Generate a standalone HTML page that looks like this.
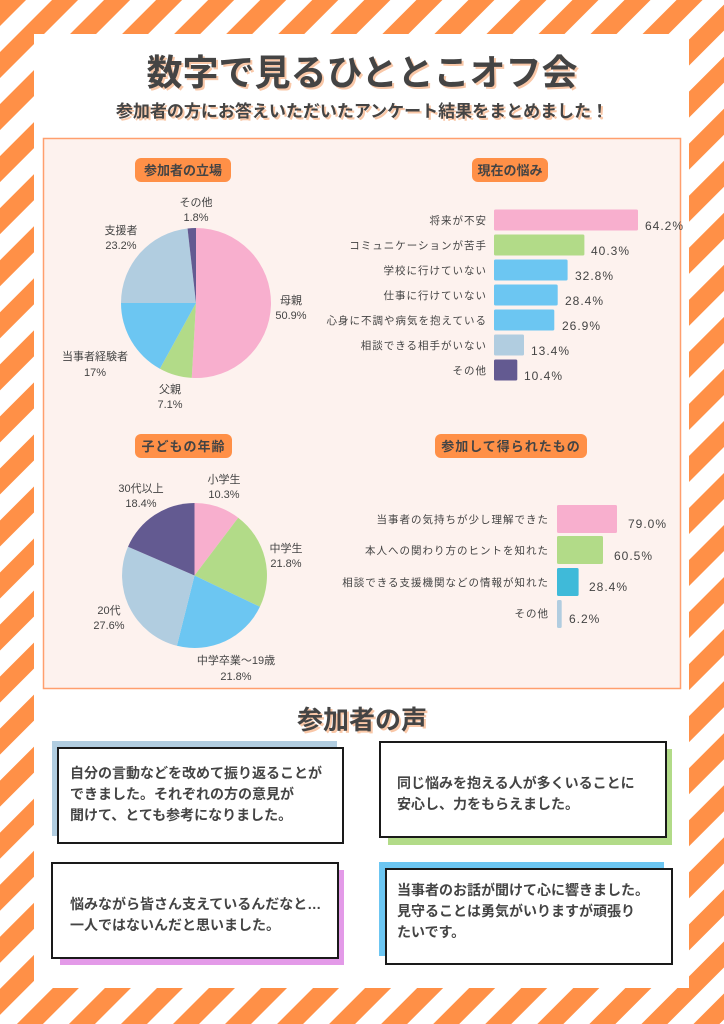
<!DOCTYPE html>
<html><head><meta charset="utf-8"><style>
html,body{margin:0;padding:0;width:724px;height:1024px;overflow:hidden;background:#fff}
svg{display:block}
text{font-family:"Liberation Sans","Noto Sans CJK JP",sans-serif;fill:#444}
.b{font-weight:bold}
</style></head><body>
<svg width="724" height="1024" viewBox="0 0 724 1024" xmlns="http://www.w3.org/2000/svg">
<defs>
<pattern id="st" width="36.8" height="36.8" patternUnits="userSpaceOnUse" patternTransform="rotate(45)">
<rect x="0" y="0" width="18.4" height="36.8" fill="#FF9047"/>
</pattern>
</defs>
<rect width="724" height="1024" fill="#fff"/>
<rect width="724" height="1024" fill="url(#st)"/>
<rect x="34" y="34" width="655" height="954" fill="#fff"/>

<!-- title -->
<g text-anchor="middle" class="b">
<text x="364" y="87" font-size="36" font-weight="bold" style="fill:#F9C7A7">数字で見るひととこオフ会</text>
<text x="362" y="85" font-size="36" font-weight="bold">数字で見るひととこオフ会</text>
<text x="364" y="119" font-size="17" font-weight="bold" style="fill:#F9C7A7">参加者の方にお答えいただいたアンケート結果をまとめました！</text>
<text x="362" y="117" font-size="17" font-weight="bold">参加者の方にお答えいただいたアンケート結果をまとめました！</text>
</g>

<!-- panel -->
<rect x="43.5" y="138.5" width="637" height="550" fill="#FDF2EE" stroke="#FF9F6E" stroke-width="1.5"/>

<!-- pills -->
<g font-size="13" font-weight="bold" text-anchor="middle">
<rect x="135" y="158" width="96" height="24" rx="6" fill="#FF9047"/><text x="183" y="175">参加者の立場</text>
<rect x="472" y="158" width="76" height="24" rx="6" fill="#FF9047"/><text x="510" y="175">現在の悩み</text>
<rect x="135" y="434" width="97" height="24" rx="6" fill="#FF9047"/><text x="183.5" y="451" letter-spacing="1">子どもの年齢</text>
<rect x="435" y="434" width="152" height="24" rx="6" fill="#FF9047"/><text x="511" y="451" letter-spacing="1">参加して得られたもの</text>
</g>

<!-- pie 1 -->
<path d="M196,303 L196,228 A75,75 0 1 1 191.76,377.88 Z" fill="#F8AFCE"/>
<path d="M196,303 L191.76,377.88 A75,75 0 0 1 159.87,368.72 Z" fill="#B2DB88"/>
<path d="M196,303 L159.87,368.72 A75,75 0 0 1 121,303 Z" fill="#6CC6F2"/>
<path d="M196,303 L121,303 A75,75 0 0 1 187.53,228.48 Z" fill="#B1CDE0"/>
<path d="M196,303 L187.53,228.48 A75,75 0 0 1 196,228 Z" fill="#635A91"/>
<g font-size="11" text-anchor="middle">
<text x="196" y="206">その他</text><text x="196" y="221">1.8%</text>
<text x="121" y="234">支援者</text><text x="121" y="249">23.2%</text>
<text x="291" y="304">母親</text><text x="291" y="319">50.9%</text>
<text x="95" y="360">当事者経験者</text><text x="95" y="376">17%</text>
<text x="170" y="393">父親</text><text x="170" y="408">7.1%</text>
</g>

<!-- pie 2 -->
<path d="M194.5,575.5 L194.5,503 A72.5,72.5 0 0 1 238.2,517.7 Z" fill="#F8AFCE"/>
<path d="M194.5,575.5 L238.2,517.7 A72.5,72.5 0 0 1 259.9,606.8 Z" fill="#B2DB88"/>
<path d="M194.5,575.5 L259.9,606.8 A72.5,72.5 0 0 1 176.9,645.8 Z" fill="#6CC6F2"/>
<path d="M194.5,575.5 L176.9,645.8 A72.5,72.5 0 0 1 128.0,546.7 Z" fill="#B1CDE0"/>
<path d="M194.5,575.5 L128.0,546.7 A72.5,72.5 0 0 1 194.5,503 Z" fill="#635A91"/>
<g font-size="11" text-anchor="middle">
<text x="224" y="483">小学生</text><text x="224" y="498">10.3%</text>
<text x="141" y="492">30代以上</text><text x="141" y="507">18.4%</text>
<text x="286" y="552">中学生</text><text x="286" y="567">21.8%</text>
<text x="109" y="614">20代</text><text x="109" y="629">27.6%</text>
<text x="236" y="664">中学卒業～19歳</text><text x="236" y="680">21.8%</text>
</g>

<!-- bar chart 1 -->
<g font-size="10.5" text-anchor="end" letter-spacing="1">
<text x="487" y="224">将来が不安</text>
<text x="487" y="249">コミュニケーションが苦手</text>
<text x="487" y="274">学校に行けていない</text>
<text x="487" y="299">仕事に行けていない</text>
<text x="487" y="324">心身に不調や病気を抱えている</text>
<text x="487" y="349">相談できる相手がいない</text>
<text x="487" y="374">その他</text>
</g>
<rect x="494" y="209.5" width="144" height="21" rx="1.5" fill="#F8AFCE"/>
<rect x="494" y="234.5" width="90.4" height="21" rx="1.5" fill="#B2DB88"/>
<rect x="494" y="259.5" width="73.6" height="21" rx="1.5" fill="#6CC6F2"/>
<rect x="494" y="284.5" width="63.7" height="21" rx="1.5" fill="#6CC6F2"/>
<rect x="494" y="309.5" width="60.3" height="21" rx="1.5" fill="#6CC6F2"/>
<rect x="494" y="334.5" width="30" height="21" rx="1.5" fill="#B1CDE0"/>
<rect x="494" y="359.5" width="23.3" height="21" rx="1.5" fill="#635A91"/>
<g font-size="12" letter-spacing="1">
<text x="645" y="230">64.2%</text>
<text x="591" y="255">40.3%</text>
<text x="575" y="280">32.8%</text>
<text x="565" y="305">28.4%</text>
<text x="562" y="330">26.9%</text>
<text x="531" y="355">13.4%</text>
<text x="524" y="380">10.4%</text>
</g>

<!-- bar chart 2 -->
<g font-size="10.5" text-anchor="end" letter-spacing="1">
<text x="549" y="523">当事者の気持ちが少し理解できた</text>
<text x="549" y="554">本人への関わり方のヒントを知れた</text>
<text x="549" y="586">相談できる支援機関などの情報が知れた</text>
<text x="549" y="617">その他</text>
</g>
<rect x="557" y="505" width="60" height="28" rx="1.5" fill="#F8AFCE"/>
<rect x="557" y="536" width="46" height="28" rx="1.5" fill="#B2DB88"/>
<rect x="557" y="568" width="21.6" height="28" rx="1.5" fill="#3FBAD9"/>
<rect x="557" y="600" width="4.7" height="28" rx="1.5" fill="#B1CDE0"/>
<g font-size="12" letter-spacing="1">
<text x="628" y="528">79.0%</text>
<text x="614" y="560">60.5%</text>
<text x="589" y="591">28.4%</text>
<text x="569" y="623">6.2%</text>
</g>

<!-- voices heading -->
<text x="364" y="731" font-size="26" font-weight="bold" text-anchor="middle" style="fill:#F9C7A7">参加者の声</text>
<text x="362" y="729" font-size="26" font-weight="bold" text-anchor="middle">参加者の声</text>

<!-- cards -->
<rect x="52" y="741" width="285" height="95" fill="#B1CDE0"/>
<rect x="58" y="748" width="285" height="95" fill="#fff" stroke="#1a1a1a" stroke-width="2"/>
<g font-size="14" font-weight="bold">
<text x="70" y="778">自分の言動などを改めて振り返ることが</text>
<text x="70" y="799">できました。それぞれの方の意見が</text>
<text x="70" y="820">聞けて、とても参考になりました。</text>
</g>

<rect x="388" y="749" width="284" height="96" fill="#B2DB88"/>
<rect x="380" y="742" width="286" height="95" fill="#fff" stroke="#1a1a1a" stroke-width="2"/>
<g font-size="14" font-weight="bold">
<text x="397" y="788">同じ悩みを抱える人が多くいることに</text>
<text x="397" y="809">安心し、力をもらえました。</text>
</g>

<rect x="60" y="870" width="284" height="95" fill="#E39AE8"/>
<rect x="52" y="863" width="286" height="95" fill="#fff" stroke="#1a1a1a" stroke-width="2"/>
<g font-size="14" font-weight="bold">
<text x="70" y="909">悩みながら皆さん支えているんだなと…</text>
<text x="70" y="930">一人ではないんだと思いました。</text>
</g>

<rect x="379" y="862" width="285" height="94" fill="#6CC6F2"/>
<rect x="386" y="869" width="286" height="95" fill="#fff" stroke="#1a1a1a" stroke-width="2"/>
<g font-size="14" font-weight="bold">
<text x="397" y="895">当事者のお話が聞けて心に響きました。</text>
<text x="397" y="916">見守ることは勇気がいりますが頑張り</text>
<text x="397" y="937">たいです。</text>
</g>
</svg>
</body></html>
